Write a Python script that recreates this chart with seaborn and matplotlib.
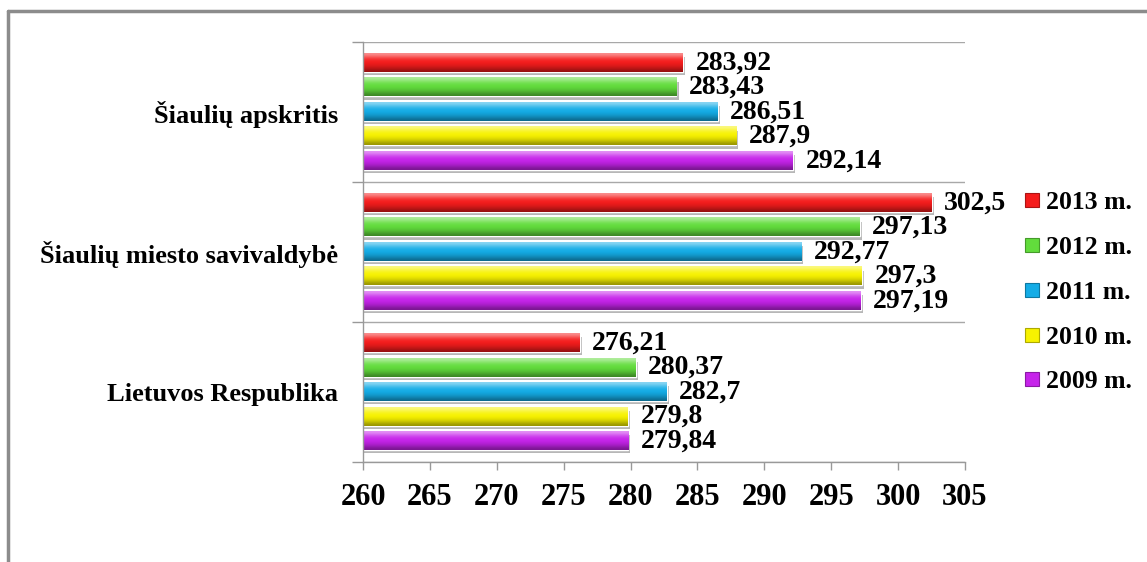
import numpy as np
import pandas as pd
import seaborn as sns
import matplotlib.pyplot as plt
import matplotlib.patheffects as pe
from matplotlib.colors import to_rgb
from matplotlib.lines import Line2D

# ================ DATA ================================================

categories = ["Šiaulių apskritis", "Šiaulių miesto savivaldybė", "Lietuvos Respublika"]
years = ["2013 m.", "2012 m.", "2011 m.", "2010 m.", "2009 m."]
v2013 = [283.92, 302.5, 276.21]
v2012 = [283.43, 297.13, 280.37]
v2011 = [286.51, 292.77, 282.7]
v2010 = [287.9, 297.3, 279.8]
v2009 = [292.14, 297.19, 279.84]
colors = ["#f51c1c", "#62dc3c", "#14ace6", "#f7f200", "#c624ea"]

series = [v2013, v2012, v2011, v2010, v2009]
df = pd.DataFrame({
	"region": categories * len(years),
	"year": [y for y in years for _ in categories],
	"value": [v for s in series for v in s],
})

XMIN, XMAX = 260, 305

# ================ PLOT ================================================

sns.set_style("white")
plt.rcParams['font.family'] = ['Liberation Serif', 'DejaVu Serif']
plt.rcParams['font.weight'] = 'bold'
plt.rcParams['text.color'] = 'black'
plt.rcParams['xtick.labelcolor'] = 'black'
plt.rcParams['ytick.labelcolor'] = 'black'

fig = plt.figure(figsize=(11.47, 5.62), dpi=100)
ax = fig.add_axes([0.3165, 0.178, 0.5248, 0.7475])

palette = dict(zip(years, colors))
sns.barplot(data=df, y="region", x="value", hue="year", order=categories,
	hue_order=years, palette=palette, orient="h", width=0.875, gap=0.26,
	saturation=1, legend=False, ax=ax)

def shade(c, f):
	"""mix colour with white (f>0) or black (f<0)"""
	c = np.array(to_rgb(c))
	return c + (1 - c) * f if f > 0 else c * (1 + f)

# glossy gradient + drop shadow on each bar
for cont, col in zip(ax.containers, colors):
	grad = np.array([shade(col, 0.5), shade(col, 0.25), shade(col, 0.05), shade(col, 0.0),
		shade(col, -0.08), shade(col, -0.2), shade(col, -0.38)])[:, None, :]
	for p in cont:
		p.set_path_effects([pe.SimplePatchShadow(offset=(1.5, -2.5), shadow_rgbFace='#888888', alpha=0.6), pe.Normal()])
		x0, y0, w, h = p.get_x(), p.get_y(), p.get_width(), p.get_height()
		ax.imshow(grad, extent=(max(x0, XMIN), x0 + w, y0 + h, y0), origin='upper',
			aspect='auto', interpolation='bicubic', zorder=p.get_zorder() + 0.1)
	labels = [f"{v:g}".replace('.', ',') for v in cont.datavalues]
	ax.bar_label(cont, labels=labels, padding=9, fontsize=20, fontweight='bold', color='black')

ax.set_xlim(XMIN, XMAX)
ax.set_ylim(2.5, -0.5)
ax.set_xticks(np.arange(XMIN, XMAX + 1, 5))
ax.set_xlabel("")
ax.set_ylabel("")

# category borders on the y axis
ax.set_yticks([-0.5, 0.5, 1.5, 2.5], minor=True)
ax.tick_params(axis='y', which='major', length=0, pad=18, labelsize=19, labelcolor='black')
ax.tick_params(axis='y', which='minor', length=8, color='#999999', width=1, direction='out', left=True)
ax.tick_params(axis='x', length=6, color='#999999', width=1, direction='out', bottom=True, pad=9,
	labelsize=22, labelcolor='black')
ax.grid(False)
ax.grid(True, axis='y', which='minor', color='#a8a8a8', lw=1)
for t in ax.get_xticklabels() + ax.get_yticklabels():
	t.set_fontweight('bold')

for s in ['top', 'right']:
	ax.spines[s].set_visible(False)
for s in ['left', 'bottom']:
	ax.spines[s].set_color('#999999')
	ax.spines[s].set_linewidth(1)

# legend with small square markers
handles = [Line2D([], [], ls='none', marker='s', markersize=10, markerfacecolor=c,
	markeredgecolor=shade(c, -0.3), markeredgewidth=0.8) for c in colors]
leg = fig.legend(handles, years, loc='center left', bbox_to_anchor=(0.8805, 0.48), frameon=False,
	handlelength=0.7, handletextpad=0.2, labelspacing=0.85, borderpad=0,
	prop={'family': ['Liberation Serif'], 'weight': 'bold', 'size': 18.5})
for t in leg.get_texts():
	t.set_color('black')

# outer chart frame (top and left edges only)
fig.add_artist(Line2D([0.007, 1.0], [0.981, 0.981], transform=fig.transFigure, color='#8c8c8c', lw=2.5))
fig.add_artist(Line2D([0.007, 0.007], [0.0, 0.981], transform=fig.transFigure, color='#8c8c8c', lw=2.5))

fig.savefig("out.png", dpi=100)
